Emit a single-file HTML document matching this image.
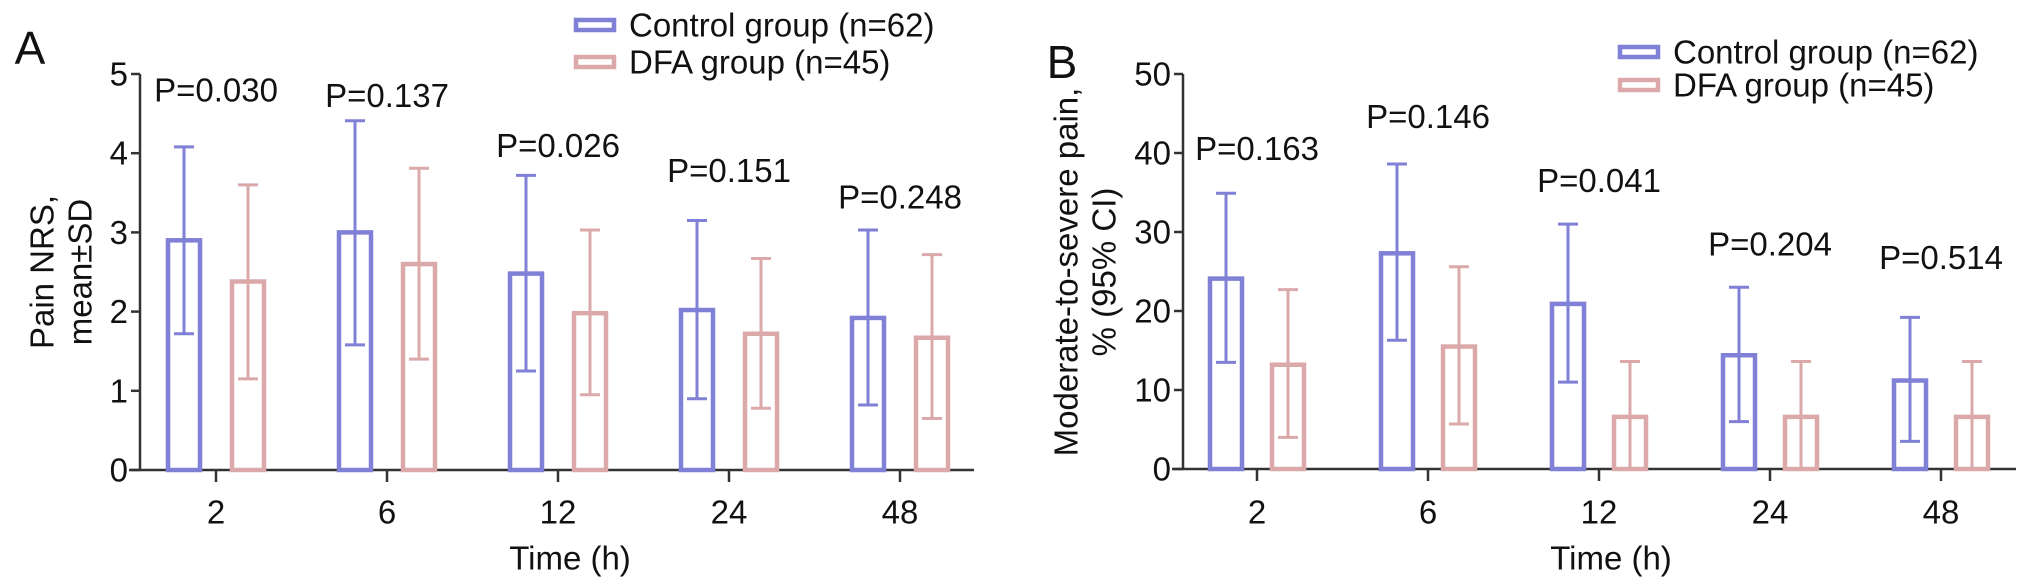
<!DOCTYPE html>
<html><head><meta charset="utf-8">
<style>
html,body{margin:0;padding:0;background:#fff;}
svg{display:block;font-family:"Liberation Sans",Arial,sans-serif;}
</style></head>
<body>
<svg id="fig" width="2032" height="577" viewBox="0 0 2032 577" xmlns="http://www.w3.org/2000/svg"></svg>
<script>
// ---- data ----
const categories = ["2","6","12","24","48"];
const aCtrlMean = [2.9, 3.0, 2.48, 2.02, 1.92];
const aCtrlHi   = [4.08, 4.41, 3.72, 3.15, 3.03];
const aCtrlLo   = [1.72, 1.58, 1.25, 0.9, 0.82];
const aDfaMean  = [2.38, 2.6, 1.98, 1.72, 1.67];
const aDfaHi    = [3.6, 3.81, 3.03, 2.67, 2.72];
const aDfaLo    = [1.15, 1.4, 0.95, 0.78, 0.65];
const aPvals    = ["P=0.030","P=0.137","P=0.026","P=0.151","P=0.248"];
const aPy       = [4.8, 4.73, 4.1, 3.78, 3.45];
const aTicks    = [0,1,2,3,4,5];

const bCtrlMean = [24.1, 27.3, 20.9, 14.4, 11.2];
const bCtrlHi   = [34.9, 38.6, 31.0, 23.0, 19.2];
const bCtrlLo   = [13.5, 16.3, 11.0, 6.0, 3.5];
const bDfaMean  = [13.2, 15.5, 6.6, 6.6, 6.6];
const bDfaHi    = [22.7, 25.6, 13.6, 13.6, 13.6];
const bDfaLo    = [4.0, 5.7, 0, 0, 0];
const bPvals    = ["P=0.163","P=0.146","P=0.041","P=0.204","P=0.514"];
const bPy       = [40.6, 44.6, 36.5, 28.5, 26.8];
const bTicks    = [0,10,20,30,40,50];

const CTRL="#7f80d6", DFA="#dba9aa", AX="#333";
const FS=33;
const svg=document.getElementById('fig');
const NS="http://www.w3.org/2000/svg";
function mk(tag,attrs,parent){const e=document.createElementNS(NS,tag);for(const k in attrs)e.setAttribute(k,attrs[k]);(parent||svg).appendChild(e);return e;}
function txt(s,x,y,size,anchor,parent,rot){const t=mk('text',{x:x,y:y,'font-size':size,'text-anchor':anchor||'middle','dominant-baseline':'central',fill:'#111'},parent);if(rot)t.setAttribute('transform','rotate(-90 '+x+' '+y+')');t.textContent=s;return t;}

function panel(o){
  const g=mk('g',{});
  
  
  const y=v=>o.y0-(v/o.max)*(o.y0-o.yTop);
  const x=i=>o.x0+i*o.step;
  const ya=mk('line',{x1:o.ax,y1:o.yTop,x2:o.ax,y2:o.y0,stroke:AX,'stroke-width':2.5},g);
  
  const xa=mk('line',{x1:o.ax-11,y1:o.y0,x2:o.xEnd,y2:o.y0,stroke:AX,'stroke-width':2.5},g);
  
  o.ticks.forEach(t=>{
    mk('line',{x1:o.ax-9,y1:y(t),x2:o.ax,y2:y(t),stroke:AX,'stroke-width':2.5},g);
    const l=txt(String(t),o.ax-12,y(t),FS,'end',g);
    
  });
  categories.forEach((c,i)=>{
    mk('line',{x1:x(i),y1:o.y0,x2:x(i),y2:o.y0+12,stroke:AX,'stroke-width':2.5},g);
    const l=txt(c,x(i),512,FS,'middle',g);
    
    [[o.cm,o.ch,o.cl,CTRL,-o.off,'control'],[o.dm,o.dh,o.dl,DFA,o.off,'dfa']].forEach(s=>{
      const cx=x(i)+s[4], w=32, col=s[3];
      const b=mk('rect',{x:cx-w/2,y:y(s[0][i]),width:w,height:o.y0-y(s[0][i]),fill:'none',stroke:col,'stroke-width':4.5},g);
      
      const e=mk('path',{d:'M'+cx+' '+y(s[1][i])+'V'+y(s[2][i])+'M'+(cx-10)+' '+y(s[1][i])+'H'+(cx+10)+'M'+(cx-10)+' '+y(s[2][i])+'H'+(cx+10),stroke:col,'stroke-width':3,fill:'none'},g);
      
    });
    const p=txt(o.pv[i],x(i),y(o.py[i]),FS,'middle',g);
    
  });
  const xt=txt('Time (h)',o.xtX,558,FS,'middle',g);
  
  o.yt.forEach((s,k)=>{const t=txt(s,o.ytX[k],272,FS,'middle',g,true);
    });
  const pl=txt(o.letter,o.lx,o.ly,46,'middle',g);
  
  [['Control group (n=62)',CTRL,o.legY[0]],['DFA group (n=45)',DFA,o.legY[1]]].forEach(s=>{
    const r=mk('rect',{x:o.legX,y:s[2]-5,width:38,height:10,fill:'none',stroke:s[1],'stroke-width':4.5},g);
    
    const t=txt(s[0],o.legX+53,s[2],FS,'start',g);
    
  });
}
panel({name:'panel-a',ax:140,y0:470,yTop:74,max:5,x0:216,step:171,off:32,xEnd:974,ticks:aTicks,
  cm:aCtrlMean,ch:aCtrlHi,cl:aCtrlLo,dm:aDfaMean,dh:aDfaHi,dl:aDfaLo,pv:aPvals,py:aPy,
  xtX:570,yt:['Pain NRS,','mean±SD'],ytX:[42,80],letter:'A',lx:30,ly:48,legX:576,legY:[25,62]});
panel({name:'panel-b',ax:1183,y0:469,yTop:74,max:50,x0:1257,step:171,off:31,xEnd:2016,ticks:bTicks,
  cm:bCtrlMean,ch:bCtrlHi,cl:bCtrlLo,dm:bDfaMean,dh:bDfaHi,dl:bDfaLo,pv:bPvals,py:bPy,
  xtX:1611,yt:['Moderate-to-severe pain,','% (95% CI)'],ytX:[1066,1104],letter:'B',lx:1062,ly:62,legX:1620,legY:[52,85]});
</script>
</body></html>
